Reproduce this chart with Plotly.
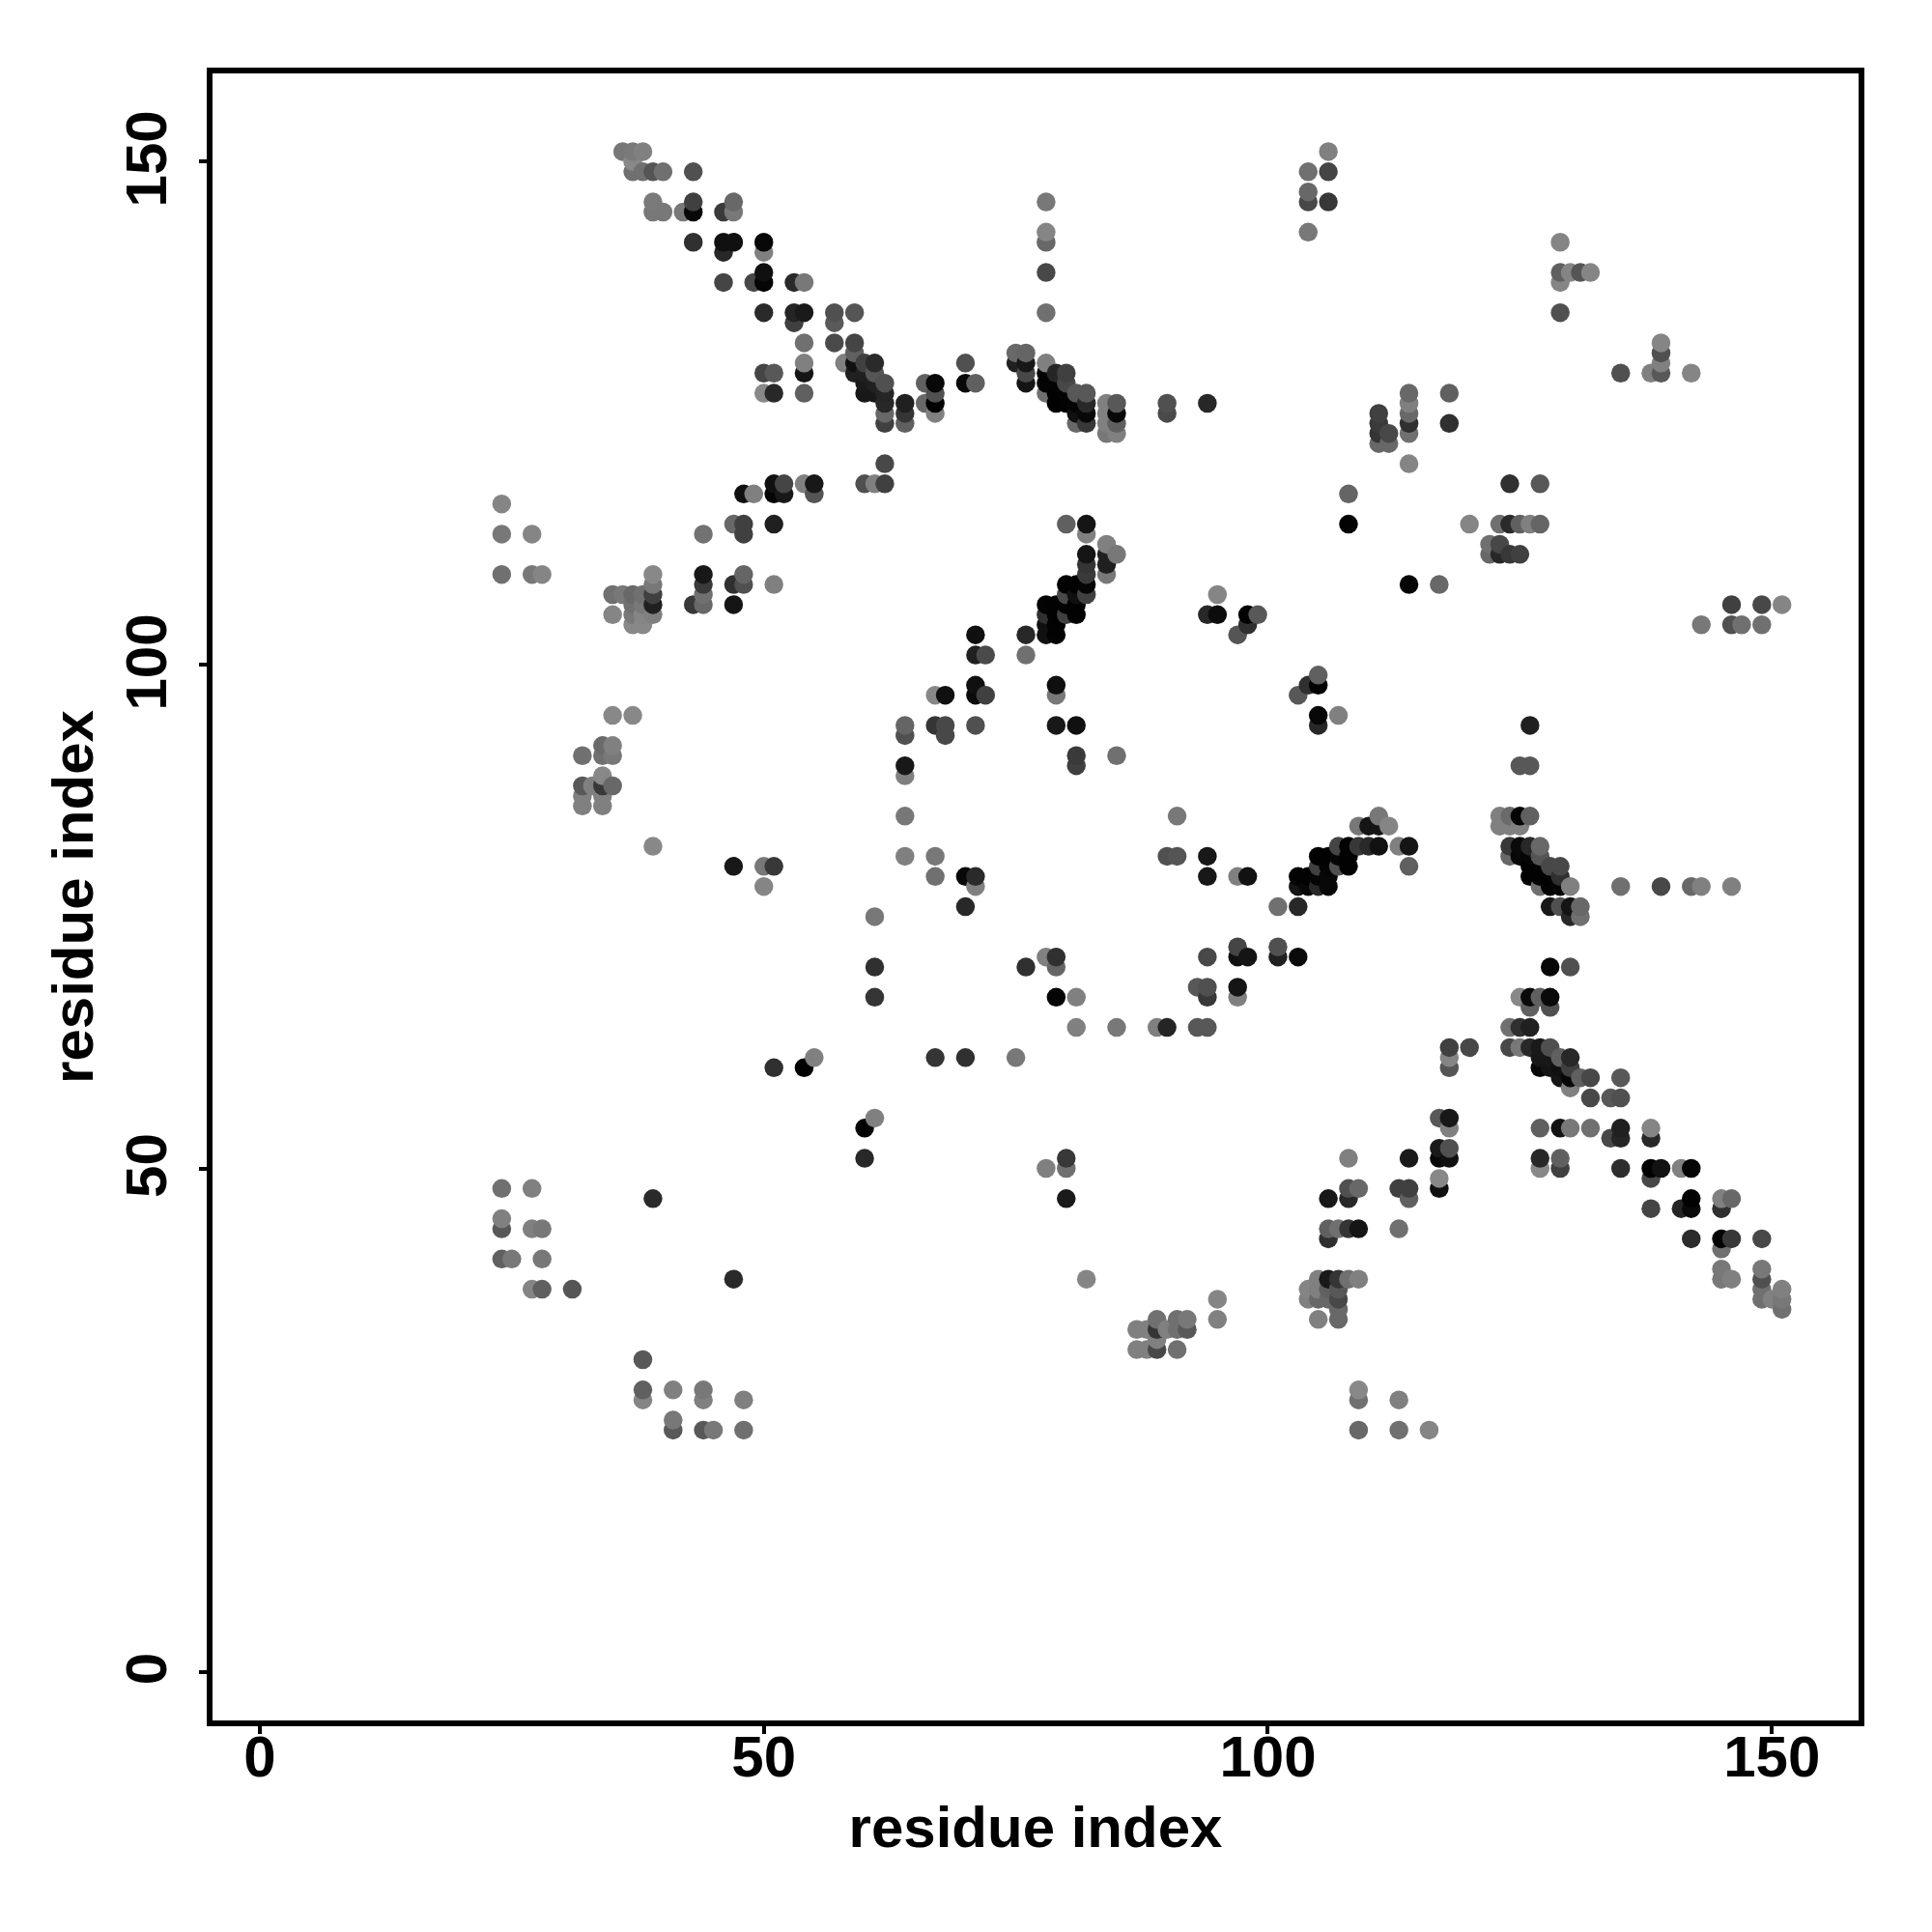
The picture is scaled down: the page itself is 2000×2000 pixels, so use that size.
import plotly.graph_objects as go

tick_values = [0, 50, 100, 150]
axis_title = "residue index"

# Each row: residue on the vertical axis, residues on the horizontal axis, grey level (0-255)
row_y = [151, 150, 149, 147, 146, 145, 143, 142, 141, 139, 138, 135, 134, 132, 131, 130, 129, 128, 127, 126, 125, 124, 123, 122, 120,
         118, 117, 116, 114, 113, 112, 111, 110, 109, 108, 107, 106, 105, 104, 103, 101, 99, 98, 97, 95, 94, 93, 92, 91, 90, 89, 88, 87, 86,
         85, 84, 82, 81, 80, 79, 78, 76, 75, 72, 71, 70, 68, 67, 66, 64, 62, 61, 60, 59, 58, 57, 55, 54, 53, 52, 51, 50, 49, 48, 47, 46, 45, 44,
         43, 42, 41, 40, 39, 38, 37, 36, 35, 34, 33, 32, 31, 28, 27, 25, 24,
         142, 139, 138, 135, 132, 131, 130, 129, 118, 114, 112, 111, 106, 104]
row_x = [
 [36,37,38,106], [37], [37,38,39,40,43,104,106], [104], [39,43,47,78,104,106], [39,40,42,43,46,47], [78,104], [43,46,47,50,78], [46,50],
 [50,78], [46,49,50,53,54], [50,53,54,57,59,78], [53,57], [54,57,59], [59,75,76], [54,58,59,60,61,70,75,76,78],
 [50,51,54,59,60,61,76,78,79,80], [60,61,62,66,67,70,71,76,78,79,80], [50,51,54,60,61,62,67,78,79,80,81,82,114,118],
 [62,64,66,67,79,80,81,82,84,85,90,94,114], [62,64,67,81,82,84,85,90,111,114], [62,64,81,82,84,85,111,114,118], [84,85,111,112,114], [111,112],
 [62,114],
 [51,52,54,55,60,61,62], [48,49,51,52,55,108], [24], [47,48,51,80,82,108], [24,27,44,48,82], [84], [82,84,85], [82,84], [24,27,28,39,44,48,82,84],
 [39,44,47,48,51,80,81,82,114,117], [35,36,37,38,39,44,80,81,82,95], [37,38,39,43,44,47,78,79,80,81], [35,37,38,39,78,79,80,81,94,95,98,99], [37,38,78,79,98],
 [78,79,76,71,97], [71,72,76], [105], [79,104,105,71], [67,68,71,72,79,103], [35,37,105,107], [64,67,68,71,79,81,105,126], [64,68],
 [34,35], [32,34,35,81,85], [64,81,125,126], [34,64], [32,33,34,35], [32,34], [32,34],
 [64,91,111,123,124,125,126], [109,110,111,112,123,124,125], [39,107,108,109,110,111,113,114,124,125,126,127], [64,67,90,91,94,105,106,107,108,124,125,126,127],
 [47,50,51,105,106,107,108,114,126,127,128,129], [67,70,71,94,97,98,103,104,105,106,126,127,128,129], [50,71,103,104,105,106,127,128,129,130,135,139,142,143,146],
 [70,101,103,128,129,130,131], [61,130,131], [97,101], [78,79,94,97,98,101,103], [61,76,79,128,130], [93,94,97], [61,79,81,94,97,125,126,127,128], [126,128],
 [81,85,89,90,93,94,124,125,126], [118,120,124,125,126,127,128], [55,67,70,75,118,127,128,129,130], [51,54,118,127,128,129,130], [129,130,131,132,135], [130],
 [132,134,135], [61,117,118], [60,118,127,129,130,132,135,138], [134,135,138], [117,118], [60,80,108,114,117,118,127,129], [78,80,127,129,135,138,139,141,142],
 [117,138], [24,27,108,109,113,114,117], [39,80,106,108,114,142,145,146], [138,141,142,145], [24], [24,27,28,106,107,108,109,113],
 [106,142,145,146,149], [145], [24,25,28], [145,149], [82,47,105,106,107,108,109,145,146,149], [27,28,31,104,105,106,107,149,151], [95,104,105,106,107,149,150,151], [107,151],
 [89,91,92,95,105,107], [87,88,89,90,91,92], [89], [87,88,89,91], [38], [38,41,44,109], [38,44,48,109,113], [41], [41,44,45,48,109,113,116],
 [129], [129,130,131,132], [129], [129], [139], [139], [139], [135,138,139,142], [124,127], [120,123,124,125,126,127], [122,123], [122,123,124,125], [146,149,151], [143,146,147,149]]
row_gray = [
 [0x77,0x7a,0x80,0x80], [0x88], [0x70,0x70,0x55,0x70,0x50,0x70,0x45], [0x68], [0x7a,0x40,0x68,0x78,0x48,0x38], [0x78,0x78,0x78,0x08,0x3a,0x78], [0x85,0x78], [0x30,0x10,0x10,0x08,0x68], [0x28,0x80],
 [0x10,0x48], [0x45,0x48,0x05,0x2a,0x78], [0x2a,0x25,0x1a,0x50,0x55,0x70], [0x40,0x5a], [0x70,0x4a,0x45], [0x60,0x68,0x65], [0x80,0x80,0x10,0x40,0x2a,0x50,0x20,0x18,0x80],
 [0x45,0x58,0x15,0x20,0x20,0x55,0x48,0x02,0x25,0x40], [0x1a,0x20,0x50,0x60,0x08,0x08,0x60,0x15,0x05,0x03,0x48], [0x88,0x28,0x60,0x18,0x18,0x25,0x50,0x70,0x02,0x03,0x58,0x58,0x68,0x60],
 [0x28,0x20,0x68,0x02,0x02,0x02,0x05,0x28,0x80,0x58,0x50,0x28,0x80], [0x68,0x35,0x80,0x10,0x08,0x80,0x08,0x4a,0x40,0x68], [0x40,0x60,0x68,0x38,0x80,0x60,0x3a,0x30,0x30], [0x78,0x80,0x35,0x48,0x70], [0x68,0x68],
 [0x48,0x85],
 [0x10,0x45,0x80,0x18,0x50,0x80,0x40], [0x10,0x80,0x05,0x18,0x55,0x65], [0x85], [0x68,0x40,0x20,0x60,0x15,0x02], [0x78,0x85,0x72,0x40,0x80], [0x80], [0x15,0x20,0x78], [0x35,0x20], [0x70,0x78,0x85,0x88,0x18,0x65,0x3a,0x78],
 [0x78,0x3a,0x30,0x50,0x80,0x02,0x02,0x05,0x05,0x68], [0x70,0x78,0x68,0x70,0x40,0x70,0x48,0x10,0x40,0x85], [0x70,0x78,0x20,0x38,0x68,0x15,0x03,0x02,0x02,0x02], [0x85,0x78,0x85,0x80,0x30,0x02,0x40,0x02,0x28,0x0c,0x02,0x58], [0x88,0x88,0x10,0x03,0x30],
 [0x10,0x03,0x28,0x10,0x55], [0x20,0x4a,0x70], [0x60], [0x0f,0x30,0x02,0x10], [0x88,0x10,0x0a,0x40,0x78,0x58], [0x88,0x88,0x08,0x80], [0x65,0x35,0x48,0x50,0x18,0x10,0x28,0x20], [0x50,0x48],
 [0x6a,0x80], [0x70,0x70,0x78,0x3a,0x70], [0x18,0x40,0x58,0x58], [0x88,0x80], [0x58,0x80,0x38,0x68], [0x80,0x80], [0x80,0x80],
 [0x78,0x78,0x78,0x80,0x6a,0x05,0x60], [0x78,0x15,0x15,0x85,0x80,0x80,0x80], [0x88,0x45,0x03,0x38,0x2a,0x12,0x80,0x15,0x38,0x0a,0x28,0x68], [0x80,0x78,0x50,0x55,0x18,0x02,0x02,0x05,0x02,0x68,0x08,0x05,0x55],
 [0x18,0x78,0x38,0x40,0x05,0x50,0x02,0x60,0x02,0x03,0x48,0x48], [0x70,0x08,0x2a,0x18,0x80,0x12,0x03,0x03,0x05,0x08,0x02,0x02,0x02,0x30], [0x85,0x80,0x15,0x08,0x28,0x08,0x70,0x03,0x05,0x80,0x70,0x48,0x68,0x80,0x80],
 [0x28,0x70,0x28,0x18,0x50,0x15,0x68], [0x78,0x28,0x70], [0x45,0x50], [0x80,0x30,0x48,0x10,0x15,0x20,0x0a], [0x30,0x30,0x65,0x08,0x50], [0x58,0x50,0x15], [0x35,0x05,0x80,0x38,0x80,0x88,0x0a,0x60,0x0a], [0x60,0x50],
 [0x80,0x78,0x80,0x25,0x58,0x58,0x70,0x30,0x20], [0x40,0x48,0x48,0x78,0x28,0x1a,0x50], [0x80,0x35,0x30,0x78,0x85,0x18,0x18,0x60,0x28], [0x30,0x02,0x55,0x08,0x15,0x10,0x40], [0x15,0x08,0x60,0x48,0x58], [0x80],
 [0x48,0x58,0x50], [0x80,0x58,0x18], [0x02,0x80,0x60,0x12,0x78,0x70,0x20,0x85], [0x48,0x25,0x28], [0x1a,0x50], [0x28,0x38,0x80,0x1a,0x08,0x10,0x28,0x60], [0x80,0x70,0x88,0x40,0x2e,0x02,0x12,0x80,0x05],
 [0x88,0x48], [0x70,0x80,0x50,0x68,0x40,0x40,0x10], [0x2a,0x1a,0x18,0x28,0x60,0x02,0x80,0x68], [0x45,0x25,0x0a,0x30], [0x80], [0x58,0x80,0x78,0x60,0x70,0x35,0x15,0x70],
 [0x30,0x2c,0x03,0x38,0x48], [0x70], [0x60,0x78,0x78], [0x78,0x78], [0x85,0x2a,0x80,0x1a,0x35,0x70,0x80,0x78,0x80,0x50], [0x85,0x60,0x55,0x85,0x80,0x60,0x58,0x70,0x80], [0x85,0x80,0x68,0x68,0x48,0x70,0x80,0x78], [0x68,0x70],
 [0x70,0x70,0x78,0x80,0x80,0x68], [0x80,0x80,0x35,0x80,0x70,0x58], [0x80], [0x80,0x80,0x48,0x70], [0x58], [0x60,0x80,0x78,0x88], [0x85,0x80,0x80,0x70,0x80], [0x78], [0x58,0x58,0x78,0x70,0x68,0x70,0x85],
 [0x85], [0x60,0x85,0x55,0x85], [0x85], [0x50], [0x85], [0x50], [0x80], [0x50,0x80,0x58,0x85], [0x30,0x58], [0x85,0x70,0x2a,0x60,0x80,0x65], [0x70,0x48], [0x68,0x28,0x38,0x40], [0x40,0x48,0x85], [0x78,0x50,0x70,0x70]]

pts = []
for y, xs, gs in zip(row_y, row_x, row_gray):
    for x, g in zip(xs, gs):
        pts.append((x, y, g))
pts.sort(key=lambda p: (p[0], p[1]))

fig = go.Figure(go.Scatter(
    x=[p[0] for p in pts], y=[p[1] for p in pts], mode="markers",
    marker=dict(size=19.5, color=[f"rgb({p[2]},{p[2]},{p[2]})" for p in pts], line=dict(width=0)),
    showlegend=False))

font = dict(family="Liberation Sans", size=60, color="black", weight="bold")
axis = dict(tickvals=tick_values, ticktext=[str(v) for v in tick_values], ticks="outside", ticklen=8, tickwidth=4, tickcolor="black",
            showline=True, linewidth=6, linecolor="black", mirror=True, showgrid=False, zeroline=False, tickfont=font,
            title=dict(text=axis_title, font=font))
fig.update_xaxes(range=[-4.69, 158.6], ticklabelstandoff=-28, **axis)
fig.update_yaxes(range=[-4.84, 158.77], tickangle=-90, ticklabelstandoff=10, ticklabelshift=6, **axis)
fig.update_xaxes(title_standoff=21)
fig.update_yaxes(title_standoff=4)
fig.update_layout(width=2000, height=2000, autosize=False, paper_bgcolor="white", plot_bgcolor="white",
                  margin=dict(l=211.5, r=83.5, t=67.5, b=226.5))
fig.write_html("out.html")
